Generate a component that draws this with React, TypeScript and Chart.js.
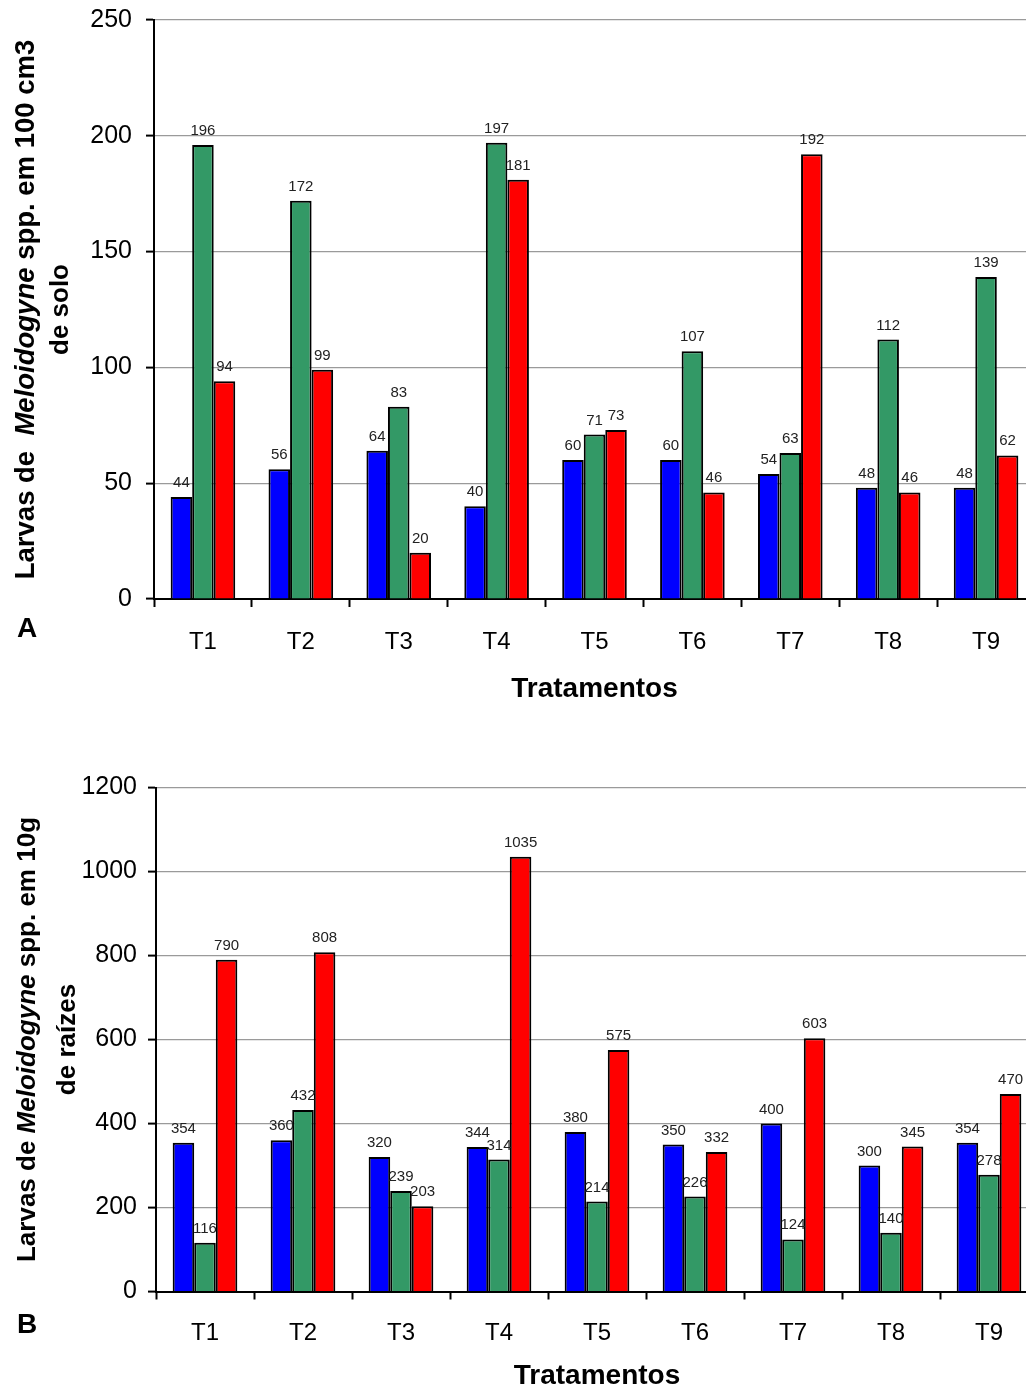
import React, { useEffect, useRef } from "react";
import { Chart, registerables } from "chart.js";

Chart.register(...registerables);

const FONT = "'Liberation Sans', Arial, Helvetica, sans-serif";

// ---- data ----
const categories = ["T1", "T2", "T3", "T4", "T5", "T6", "T7", "T8", "T9"];

const soilBlue = [44, 56, 64, 40, 60, 60, 54, 48, 48];
const soilGreen = [196, 172, 83, 197, 71, 107, 63, 112, 139];
const soilRed = [94, 99, 20, 181, 73, 46, 192, 46, 62];

const rootBlue = [354, 360, 320, 344, 380, 350, 400, 300, 354];
const rootGreen = [116, 432, 239, 314, 214, 226, 124, 140, 278];
const rootRed = [790, 808, 203, 1035, 575, 332, 603, 345, 470];

const soilAxis = [0, 250, 50]; // min, max, step
const rootAxis = [0, 1200, 200];

const seriesNames = ["Série 1", "Série 2", "Série 3"];
const seriesColors = ["#0000FF", "#339966", "#FF0000"];

type Seg = { t: string; i?: boolean };
type Line = { x: number; size: number; segs: Seg[] };

type PanelProps = {
  top: number;
  height: number;
  width: number;
  yWidth: number;
  padTop: number;
  padRight: number;
  xHeight: number;
  yTickPad: number;
  xTickPad: number;
  axis: number[];
  series: number[][];
  titleLines: Line[];
  xTitleY: number;
  letter: string;
  letterY: number;
};

function Panel(p: PanelProps) {
  const ref = useRef<HTMLCanvasElement | null>(null);
  useEffect(() => {
    if (!ref.current) return;
    const decor = {
      id: "decor",
      afterDatasetsDraw(chart: any) {
        const ctx = chart.ctx;
        ctx.save();
        ctx.fillStyle = "#222";
        ctx.font = `15px ${FONT}`;
        ctx.textAlign = "center";
        ctx.textBaseline = "alphabetic";
        chart.data.datasets.forEach((ds: any, di: number) => {
          const meta = chart.getDatasetMeta(di);
          meta.data.forEach((el: any, i: number) => {
            ctx.fillText(String(ds.data[i]), el.x, el.y - 10);
          });
        });
        ctx.restore();
      },
      afterDraw(chart: any) {
        const ctx = chart.ctx;
        const ca = chart.chartArea;
        ctx.save();
        ctx.fillStyle = "#000";
        const cy = (ca.top + ca.bottom) / 2;
        p.titleLines.forEach((line) => {
          ctx.save();
          ctx.translate(line.x, cy);
          ctx.rotate(-Math.PI / 2);
          ctx.textBaseline = "alphabetic";
          ctx.textAlign = "left";
          const fontOf = (s: Seg) => `${s.i ? "italic " : ""}bold ${line.size}px ${FONT}`;
          let total = 0;
          const widths = line.segs.map((s) => {
            ctx.font = fontOf(s);
            const w = ctx.measureText(s.t).width;
            total += w;
            return w;
          });
          let x = -total / 2;
          line.segs.forEach((s, k) => {
            ctx.font = fontOf(s);
            ctx.fillText(s.t, x, 0);
            x += widths[k];
          });
          ctx.restore();
        });
        ctx.font = `bold 28px ${FONT}`;
        ctx.textAlign = "center";
        ctx.textBaseline = "alphabetic";
        ctx.fillText("Tratamentos", (ca.left + ca.right) / 2, p.xTitleY);
        ctx.textAlign = "left";
        ctx.fillText(p.letter, 17, p.letterY);
        ctx.restore();
      },
    };

    const chart = new Chart(ref.current, {
      type: "bar",
      data: {
        labels: categories,
        datasets: p.series.map((d, k) => ({
          label: seriesNames[k],
          data: d,
          backgroundColor: seriesColors[k],
          borderColor: "#000",
          borderWidth: 2,
          categoryPercentage: 0.66,
          barPercentage: 1.0,
        })),
      },
      options: {
        responsive: false,
        animation: false,
        devicePixelRatio: 1,
        layout: {
          padding: { left: 0, top: p.padTop, right: p.padRight, bottom: 0 },
        },
        plugins: {
          legend: { display: false },
          tooltip: { enabled: false },
          title: { display: false },
        },
        scales: {
          x: {
            type: "category",
            offset: true,
            grid: {
              offset: true,
              drawOnChartArea: false,
              drawTicks: true,
              tickLength: 8,
              tickColor: "#000",
              tickWidth: 2,
            },
            border: { color: "#000", width: 2 },
            ticks: {
              color: "#000",
              font: { size: 24, family: FONT },
              padding: p.xTickPad,
              maxRotation: 0,
            },
            afterFit(scale: any) {
              scale.height = p.xHeight;
              scale.paddingLeft = 0;
              scale.paddingRight = 0;
            },
          },
          y: {
            min: p.axis[0],
            max: p.axis[1],
            ticks: {
              stepSize: p.axis[2],
              color: "#000",
              font: { size: 25, family: FONT },
              padding: p.yTickPad,
              callback: (v: any) => String(v),
            },
            grid: {
              color: "#9a9a9a",
              lineWidth: 1.2,
              drawTicks: true,
              tickLength: 8,
              tickColor: "#000",
              tickWidth: 2,
            },
            border: { color: "#000", width: 2 },
            afterFit(scale: any) {
              scale.width = p.yWidth;
              scale.paddingTop = 0;
              scale.paddingBottom = 0;
            },
          },
        },
      },
      plugins: [decor],
    } as any);
    return () => chart.destroy();
  }, []);

  return (
    <canvas
      ref={ref}
      width={p.width}
      height={p.height}
      style={{ position: "absolute", left: 0, top: p.top, width: p.width, height: p.height }}
    />
  );
}

export default function App() {
  return (
    <div
      style={{
        position: "absolute",
        left: 0,
        top: 0,
        width: 1026,
        height: 1387,
        overflow: "hidden",
        background: "#fff",
      }}
    >
      <Panel
        top={0}
        height={705}
        width={1050}
        yWidth={154}
        padTop={20}
        padRight={15}
        xHeight={106}
        yTickPad={14}
        xTickPad={21}
        axis={soilAxis}
        series={[soilBlue, soilGreen, soilRed]}
        titleLines={[
          { x: 34, size: 27.5, segs: [{ t: "Larvas de  " }, { t: "Meloidogyne", i: true }, { t: " spp. em 100 cm3" }] },
          { x: 68, size: 26, segs: [{ t: "de solo" }] },
        ]}
        xTitleY={697}
        letter="A"
        letterY={637}
      />
      <Panel
        top={705}
        height={682}
        width={1050}
        yWidth={156}
        padTop={82.5}
        padRight={12}
        xHeight={95.5}
        yTickPad={11}
        xTickPad={19}
        axis={rootAxis}
        series={[rootBlue, rootGreen, rootRed]}
        titleLines={[
          { x: 35, size: 26, segs: [{ t: "Larvas de " }, { t: "Meloidogyne", i: true }, { t: " spp. em 10g" }] },
          { x: 75, size: 26, segs: [{ t: "de raízes" }] },
        ]}
        xTitleY={679}
        letter="B"
        letterY={628}
      />
    </div>
  );
}
